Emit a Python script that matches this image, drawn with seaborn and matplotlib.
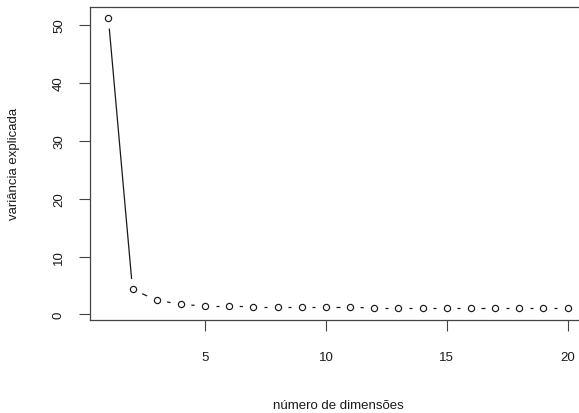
import numpy as np
import pandas as pd
import matplotlib
matplotlib.use("Agg")
import matplotlib.pyplot as plt
import seaborn as sns

# Scree data: explained variance per dimension
dimensoes = list(range(1, 21))
variancia = [51.2, 4.32, 2.47, 1.75, 1.45, 1.45, 1.30, 1.30, 1.30, 1.30,
             1.30, 1.05, 1.05, 1.05, 1.05, 1.05, 1.05, 1.05, 1.05, 1.05]
xticks = [5, 10, 15, 20]
yticks = [0, 10, 20, 30, 40, 50]

df = pd.DataFrame({"dim": dimensoes, "var": variancia})

sns.set_style("ticks")
plt.rcParams["font.family"] = ["Liberation Sans", "DejaVu Sans"]
ink = "#1a1a1a"

W, H, DPI = 579, 414, 100
fig = plt.figure(figsize=(W / DPI, H / DPI), dpi=DPI)
# left, bottom, width, height in figure fraction (right edge runs past the canvas)
ax = fig.add_axes([90 / W, (H - 321) / H, (586 - 90) / W, (321 - 7.5) / H])

# axis ranges padded 4% like base-R defaults
xr = max(dimensoes) - min(dimensoes)
yr = max(variancia) - min(variancia)
ax.set_xlim(min(dimensoes) - 0.04 * xr, max(dimensoes) + 0.04 * xr)
ax.set_ylim(min(variancia) - 0.04 * yr, max(variancia) + 0.04 * yr)

# hollow circle points
sns.scatterplot(data=df, x="dim", y="var", ax=ax, marker="o", s=20,
                facecolor="white", edgecolor=ink, linewidth=0.85, zorder=3)

# connecting segments, broken around each point ("both" style)
fig.canvas.draw()
trans = ax.transData
inv = trans.inverted()
pts = trans.transform(np.column_stack([dimensoes, variancia]))
gap = 10.5  # pixels
for p0, p1 in zip(pts[:-1], pts[1:]):
    d = p1 - p0
    L = np.hypot(*d)
    if L <= 2 * gap:
        continue
    u = d / L
    a = inv.transform(p0 + u * gap)
    b = inv.transform(p1 - u * gap)
    ax.plot([a[0], b[0]], [a[1], b[1]], color=ink, lw=0.9, zorder=2,
            solid_capstyle="butt")

ax.set_xticks(xticks)
ax.set_yticks(yticks)
ax.set_xticklabels([str(t) for t in xticks])
ax.set_yticklabels([str(t) for t in yticks], rotation=90, va="center")
ax.tick_params(axis="both", length=8, width=0.8, color="#444444",
               labelsize=9.5, labelcolor=ink)
ax.tick_params(axis="x", pad=14)
ax.tick_params(axis="y", pad=10)

for side in ["left", "bottom", "top"]:
    ax.spines[side].set_visible(True)
    ax.spines[side].set_color("#444444")
    ax.spines[side].set_linewidth(0.9)
ax.spines["right"].set_visible(False)

ax.set_xlabel("número de dimensões", fontsize=9.5, color=ink, va="center")
ax.set_ylabel("variância explicada", fontsize=9.5, color=ink, va="center")
axw = 586 - 90
axh = 321 - 7.5
ax.xaxis.set_label_coords(0.5, (321 - 406) / axh)
ax.yaxis.set_label_coords((14 - 90) / axw, 0.5)

fig.savefig("out.png", dpi=DPI)
